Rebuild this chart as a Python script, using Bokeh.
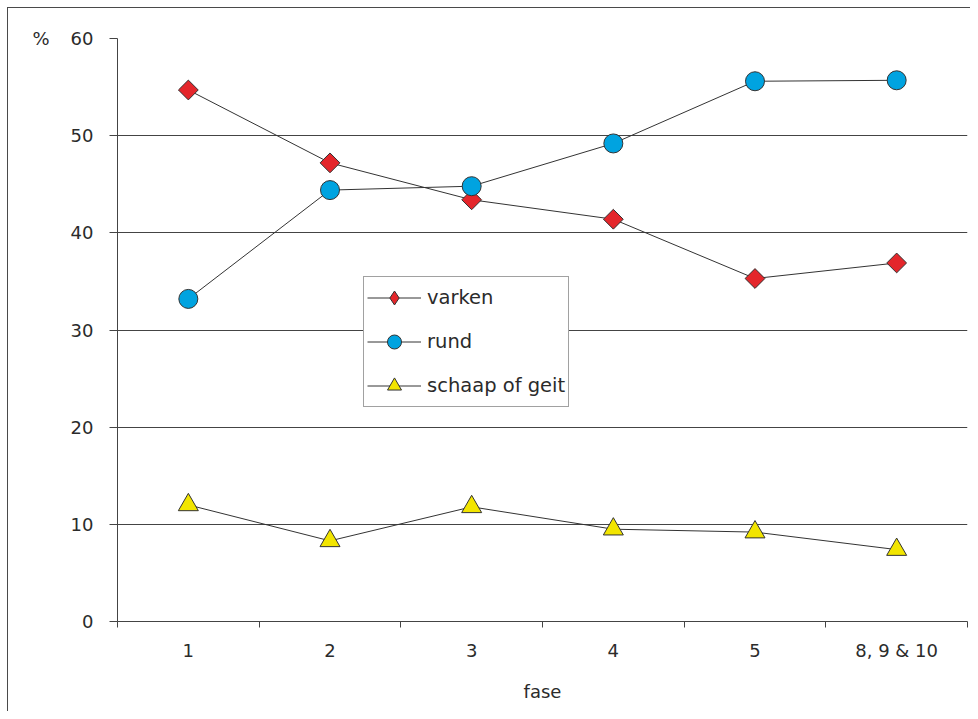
import numpy as np
from bokeh.plotting import figure
from bokeh.models import FixedTicker, Legend, LegendItem, ColumnDataSource, LinearAxis
from bokeh.embed import file_html
from bokeh.resources import INLINE

categories = ["1", "2", "3", "4", "5", "8, 9 & 10"]
varken = [54.7, 47.2, 43.4, 41.4, 35.3, 36.9]
rund = [33.2, 44.4, 44.8, 49.2, 55.6, 55.7]
schaap = [12.0, 8.3, 11.8, 9.5, 9.2, 7.4]
y_ticks = [0, 10, 20, 30, 40, 50, 60]
y_unit = "%"
x_title = "fase"

FONT = "DejaVu Sans"
TXT = "#2b2b2b"
AX = "#444444"
FRAME = "#4a4a4a"
RED, BLUE, YELLOW = "#e4262b", "#00a3e0", "#f2e500"
EDGE = "#333333"

xpos = list(np.arange(len(categories)) + 0.5)
src = ColumnDataSource(dict(x=xpos, varken=varken, rund=rund, schaap=schaap))

p = figure(width=970, height=711, output_backend="svg", toolbar_location=None,
           x_range=(0, len(categories)), y_range=(0, 60),
           min_border_left=117, min_border_top=38, min_border_right=3, min_border_bottom=90)
p.styles = {
    "background-color": "white",
    "background-image": f"linear-gradient({FRAME}, {FRAME}), linear-gradient({FRAME}, {FRAME})",
    "background-size": "1px 100%, 100% 1px",
    "background-position": "7px 7px, 7px 7px",
    "background-repeat": "no-repeat",
}
p.outline_line_color = None
p.background_fill_color = "white"
p.border_fill_alpha = 0

# x axis: category labels at centres, ticks at boundaries
p.xaxis.ticker = FixedTicker(ticks=xpos, minor_ticks=list(range(len(categories) + 1)))
p.xaxis.major_label_overrides = {float(x): c for x, c in zip(xpos, categories)}
p.xaxis.major_tick_out = 0
p.xaxis.major_tick_in = 0
p.xaxis.minor_tick_out = 6
p.xaxis.minor_tick_in = 0
p.xaxis.minor_tick_line_color = AX
p.xaxis.axis_line_color = AX
p.xaxis.major_label_standoff = 12
p.xaxis.axis_label = x_title
p.xaxis.axis_label_standoff = 17
p.xaxis.axis_label_text_font_style = "normal"

p.yaxis.ticker = FixedTicker(ticks=y_ticks)
p.yaxis.minor_tick_line_color = None
p.yaxis.major_tick_out = 8
p.yaxis.major_tick_in = 0
p.yaxis.major_tick_line_color = AX
p.yaxis.axis_line_color = AX
p.yaxis.major_label_standoff = 16

unit_axis = LinearAxis(ticker=FixedTicker(ticks=[y_ticks[-1]]),
                       major_label_overrides={y_ticks[-1]: y_unit},
                       axis_line_color=None, major_tick_line_color=None,
                       minor_tick_line_color=None, major_label_standoff=12)
p.add_layout(unit_axis, "left")

for ax in (p.xaxis[0], p.yaxis[0], unit_axis):
    ax.major_label_text_font = FONT
    ax.major_label_text_font_size = "18px"
    ax.major_label_text_color = TXT
    ax.axis_label_text_font = FONT
    ax.axis_label_text_font_size = "18px"
    ax.axis_label_text_color = TXT

p.xgrid.grid_line_color = None
p.ygrid.grid_line_color = AX
p.ygrid.grid_line_width = 1

l1 = p.line("x", "varken", source=src, line_color=EDGE, line_width=1)
m1 = p.scatter("x", "varken", source=src, marker="square", angle=np.pi / 4, size=14,
               fill_color=RED, line_color=EDGE, line_width=1)
l2 = p.line("x", "rund", source=src, line_color=EDGE, line_width=1)
m2 = p.scatter("x", "rund", source=src, marker="circle", size=19,
               fill_color=BLUE, line_color=EDGE, line_width=1)
l3 = p.line("x", "schaap", source=src, line_color=EDGE, line_width=1)
m3 = p.scatter("x", "schaap", source=src, marker="triangle", size=20,
               fill_color=YELLOW, line_color=EDGE, line_width=1)
# legend-only diamond key (legend markers are drawn without rotation); hidden in the plot
m1_key = p.scatter("x", "varken", source=src, marker="diamond", size=14,
                   fill_color=RED, line_color=EDGE, line_width=1, visible=False)

legend = Legend(items=[
    LegendItem(label="varken", renderers=[l1, m1_key]),
    LegendItem(label="rund", renderers=[l2, m2]),
    LegendItem(label="schaap of geit", renderers=[l3, m3]),
], location=(246, 214))
legend.label_text_font = FONT
legend.label_text_font_size = "19.5px"
legend.label_text_color = TXT
legend.glyph_width = 54
legend.glyph_height = 35
legend.label_height = 20
legend.spacing = 9
legend.padding = 3
legend.margin = 0
legend.label_standoff = 6
legend.border_line_color = AX
legend.border_line_width = 1
legend.background_fill_alpha = 1
p.add_layout(legend, "center")

open("out.html", "w").write(file_html(p, INLINE))
